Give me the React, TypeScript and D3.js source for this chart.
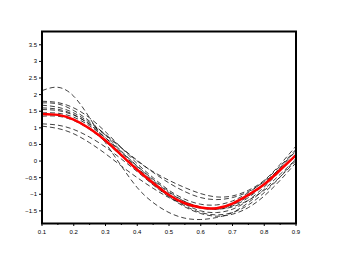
import React from 'react';
import * as d3 from 'd3';

// sample positions shared by every curve
const xs = [0.1, 0.15, 0.2, 0.25, 0.3, 0.35, 0.4, 0.45, 0.5, 0.55, 0.6, 0.65, 0.7, 0.75, 0.8, 0.85, 0.9];

// mean curve (red)
const mean = [1.42, 1.39, 1.25, 0.98, 0.62, 0.18, -0.26, -0.66, -1.02, -1.27, -1.4, -1.42, -1.28, -1.02, -0.7, -0.27, 0.18];

// individual samples (dashed)
const sample1 = [2.12, 2.22, 1.95, 1.3, 0.55, -0.15, -0.8, -1.25, -1.55, -1.72, -1.76, -1.7, -1.55, -1.25, -0.85, -0.4, 0.05];
const sample2 = [1.8, 1.76, 1.6, 1.3, 0.88, 0.4, -0.08, -0.5, -0.88, -1.15, -1.3, -1.32, -1.2, -0.95, -0.6, -0.15, 0.35];
const sample3 = [1.75, 1.72, 1.52, 1.2, 0.78, 0.3, -0.15, -0.55, -0.92, -1.22, -1.4, -1.45, -1.35, -1.1, -0.7, -0.2, 0.3];
const sample4 = [1.68, 1.62, 1.45, 1.16, 0.8, 0.4, 0.0, -0.32, -0.58, -0.8, -0.98, -1.08, -1.05, -0.88, -0.58, -0.1, 0.45];
const sample5 = [1.6, 1.56, 1.4, 1.1, 0.7, 0.25, -0.2, -0.62, -1.0, -1.3, -1.5, -1.55, -1.45, -1.18, -0.78, -0.3, 0.22];
const sample6 = [1.55, 1.52, 1.38, 1.12, 0.78, 0.4, 0.02, -0.34, -0.66, -0.92, -1.1, -1.16, -1.1, -0.92, -0.62, -0.25, 0.15];
const sample7 = [1.35, 1.35, 1.22, 0.95, 0.58, 0.15, -0.28, -0.7, -1.06, -1.35, -1.55, -1.62, -1.55, -1.32, -0.95, -0.48, 0.08];
const sample8 = [1.12, 1.08, 0.95, 0.72, 0.42, 0.06, -0.32, -0.72, -1.08, -1.38, -1.58, -1.66, -1.6, -1.4, -1.05, -0.58, -0.05];
const sample9 = [1.05, 0.98, 0.82, 0.55, 0.22, -0.15, -0.5, -0.82, -1.1, -1.3, -1.42, -1.45, -1.38, -1.18, -0.88, -0.48, 0.02];
const sample10 = [1.45, 1.44, 1.32, 1.06, 0.7, 0.28, -0.16, -0.58, -0.95, -1.22, -1.38, -1.42, -1.32, -1.06, -0.68, -0.2, 0.32];

const samples = [sample1, sample2, sample3, sample4, sample5, sample6, sample7, sample8, sample9, sample10];

const xTicks = [0.1, 0.2, 0.3, 0.4, 0.5, 0.6, 0.7, 0.8, 0.9];
const xMinor = [0.15, 0.25, 0.35, 0.45, 0.55, 0.65, 0.75, 0.85];
const yTicks = [-1.5, -1, -0.5, 0, 0.5, 1, 1.5, 2, 2.5, 3, 3.5];

export default function App() {
  const width = 339;
  const height = 256;
  const left = 42, right = 296, top = 31.5, bottom = 223.5;

  const x = d3.scaleLinear().domain([0.1, 0.9]).range([left, right]);
  const y = d3.scaleLinear().domain([-1.88, 3.9]).range([bottom, top]);

  const line = d3.line<number>()
    .x((d, i) => x(xs[i]))
    .y(d => y(d))
    .curve(d3.curveNatural);

  const font = '"Liberation Sans", Arial, sans-serif';

  return (
    <svg width={width} height={height} style={{ position: 'absolute', left: 0, top: 0, background: '#fff' }}>
      <defs>
        <clipPath id="plot">
          <rect x={left} y={top} width={right - left} height={bottom - top} />
        </clipPath>
      </defs>

      <g clipPath="url(#plot)">
        {samples.map((s, i) => (
          <path key={i} d={line(s) || ''} fill="none" stroke="#111" strokeWidth={0.8} strokeDasharray="5,3" />
        ))}
        <path d={line(mean) || ''} fill="none" stroke="#f00" strokeWidth={2.5} />
      </g>

      {/* frame */}
      <rect x={left} y={top} width={right - left} height={bottom - top} fill="none" stroke="#000" strokeWidth={2} />

      {/* y axis */}
      {yTicks.map(t => (
        <g key={t}>
          <line x1={left - 3} x2={left} y1={y(t)} y2={y(t)} stroke="#000" strokeWidth={1} />
          <text x={left - 5} y={y(t)} dy="0.33em" textAnchor="end" fontSize={6} fontFamily={font} fill="#000">
            {t < 0 ? '\u2212' + Math.abs(t) : String(t)}
          </text>
        </g>
      ))}

      {/* x axis */}
      {xTicks.map(t => (
        <g key={t}>
          <line x1={x(t)} x2={x(t)} y1={bottom} y2={bottom + 2.5} stroke="#000" strokeWidth={1} />
          <text x={x(t)} y={bottom + 10.5} textAnchor="middle" fontSize={6} fontFamily={font} fill="#000">
            {String(t)}
          </text>
        </g>
      ))}
      {xMinor.map(t => (
        <line key={t} x1={x(t)} x2={x(t)} y1={bottom} y2={bottom + 1.5} stroke="#000" strokeWidth={1} />
      ))}
    </svg>
  );
}
